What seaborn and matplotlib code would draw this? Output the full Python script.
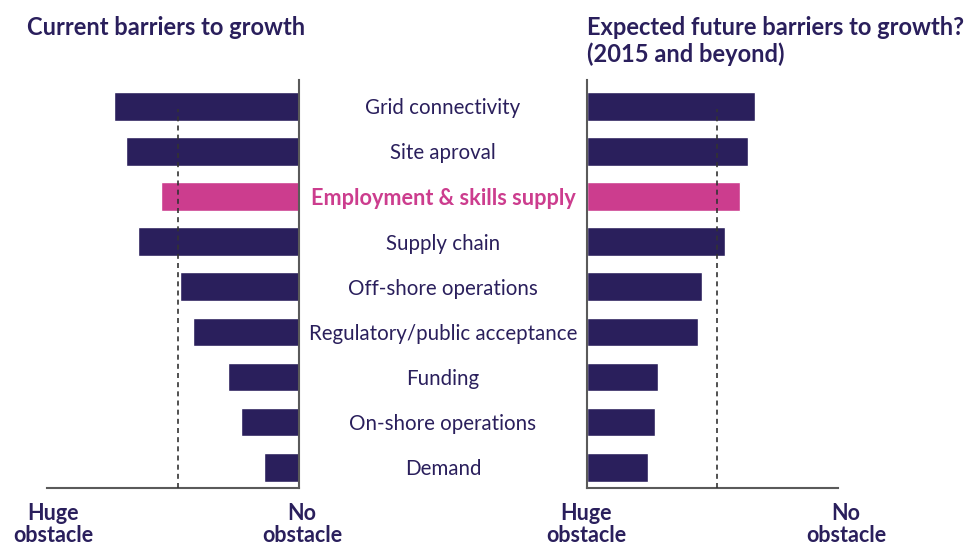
import matplotlib
matplotlib.use("Agg")
import matplotlib.pyplot as plt
import seaborn as sns
import pandas as pd
import numpy as np

categories = ["Grid connectivity", "Site aproval", "Employment & skills supply",
              "Supply chain", "Off-shore operations", "Regulatory/public acceptance",
              "Funding", "On-shore operations", "Demand"]
current_values = [73.4, 68.7, 54.8, 63.9, 47.2, 42.1, 28.2, 23.0, 13.9]
future_values = [66.9, 64.1, 61.0, 55.0, 45.8, 44.2, 28.3, 27.1, 24.3]
current_ref = 48.1
future_ref = 51.7
highlight = "Employment & skills supply"
left_title = "Current barriers to growth"
right_title = "Expected future barriers to growth?\n(2015 and beyond)"
end_labels = ["Huge\nobstacle", "No\nobstacle"]

NAVY = "#2a1f5c"
PINK = "#cc3d8e"
AXIS = "#5a5a5a"

sns.set_theme(style="white")
plt.rcParams["font.family"] = ["Lato", "DejaVu Sans"]

palette = {c: (PINK if c == highlight else NAVY) for c in categories}
df_cur = pd.DataFrame({"category": categories, "value": current_values})
df_fut = pd.DataFrame({"category": categories, "value": future_values})

fig = plt.figure(figsize=(9.7, 5.45), dpi=100)
W, H = 970, 545
bottom = 1 - 488 / H
height = (488 - 80) / H
axL = fig.add_axes([47 / W, bottom, 252 / W, height])
axR = fig.add_axes([587 / W, bottom, 251 / W, height])

for ax, df in ((axL, df_cur), (axR, df_fut)):
    sns.barplot(data=df, x="value", y="category", hue="category", palette=palette,
                legend=False, ax=ax, width=0.636, orient="h", saturation=1)
    ax.set_ylim(8.46, -0.583)
    ax.set_xlabel("")
    ax.set_ylabel("")
    for s in ax.spines.values():
        s.set_visible(False)
    ax.set_xticks([])
    ax.tick_params(axis="x", which="minor", length=5, width=1.5, color=AXIS, direction="out")

# left panel: bars grow to the left
axL.set_xlim(100, 0)
axL.spines["right"].set_visible(True)
axL.spines["bottom"].set_visible(True)
axL.set_yticks([])
axL.set_xticks([0], minor=True)
axL.set_xticklabels([], minor=True)

axR.set_xlim(0, 100)
axR.spines["left"].set_visible(True)
axR.spines["bottom"].set_visible(True)
axR.set_xticks([0], minor=True)
axR.set_xticklabels([], minor=True)

for ax in (axL, axR):
    for side in ("left", "right", "bottom"):
        ax.spines[side].set_color(AXIS)
        ax.spines[side].set_linewidth(1.5)

frac = (488 - 109) / 408
axL.axvline(current_ref, ymin=0, ymax=frac, color="#333333", lw=1.2, ls=(0, (3, 2.5)), zorder=5)
axR.axvline(future_ref, ymin=0, ymax=frac, color="#333333", lw=1.2, ls=(0, (3, 2.5)), zorder=5)

# category labels centred in the gap
axR.set_yticks(range(len(categories)))
axR.set_yticklabels(categories)
axR.tick_params(axis="y", length=0, pad=(587 - 443) * 0.72)
for lab in axR.get_yticklabels():
    lab.set_ha("center")
    if lab.get_text() == highlight:
        lab.set_color(PINK)
        lab.set_fontweight("bold")
        lab.set_fontsize(15.6)
    else:
        lab.set_color(NAVY)
        lab.set_fontsize(14.8)

# end labels
tkw = dict(color=NAVY, fontsize=15.5, fontweight="bold", ha="center", va="top",
           linespacing=1.08)
fig.text(53 / W, 1 - 503 / H, end_labels[0], **tkw)
fig.text(302 / W, 1 - 503 / H, end_labels[1], **tkw)
fig.text(586 / W, 1 - 503 / H, end_labels[0], **tkw)
fig.text(846 / W, 1 - 503 / H, end_labels[1], **tkw)

# titles
ttl = dict(color=NAVY, fontsize=17, fontweight="bold", ha="left", va="baseline")
fig.text(27 / W, 1 - 35 / H, left_title, **ttl)
for k, line in enumerate(right_title.split("\n")):
    fig.text(587 / W, 1 - (35 + 27 * k) / H, line, **ttl)

fig.savefig("out.png", dpi=100, facecolor="white")
